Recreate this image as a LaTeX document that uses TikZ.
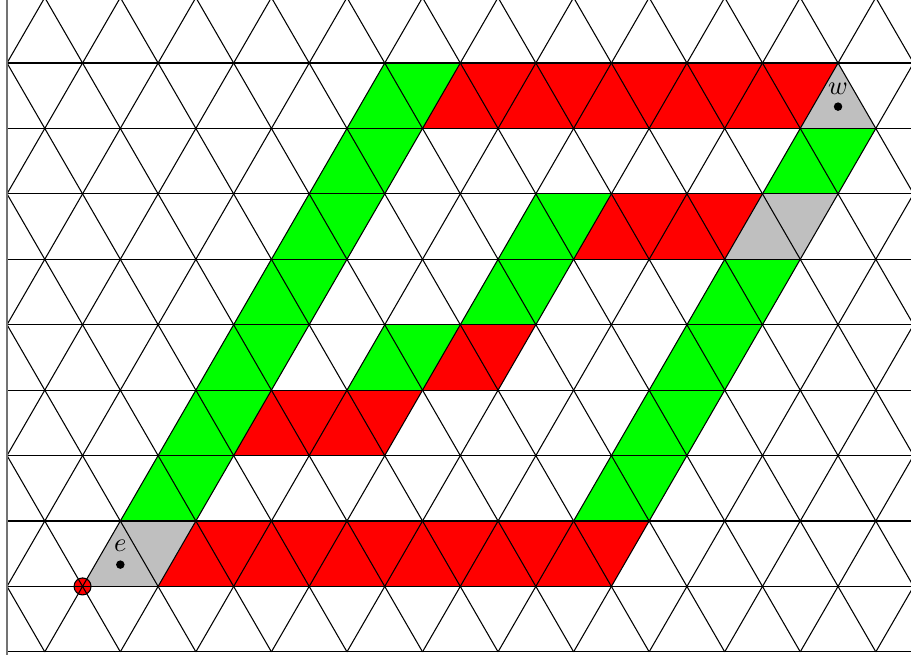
\documentclass[tikz,border=0pt]{standalone}
\begin{document}
\begin{tikzpicture}[x={(1cm,0cm)}, y={(0cm,-0.8660254cm)},
  greenf/.style={fill=green},
  redf/.style={fill=red},
  grayf/.style={fill=lightgray},
  gridline/.style={draw=black, line width=0.4pt},
  dotmark/.style={circle, fill=black, inner sep=0pt, minimum size=3.2pt},
  startmark/.style={circle, draw=black, fill=red, inner sep=0pt, minimum size=6.4pt}]
\useasboundingbox (-0.0927,-0.963) rectangle (11.966,9.094);
% green bands
\fill[greenf] (5,0) -- (6,0) -- (2.5,7) -- (1.5,7) -- cycle;
\fill[greenf] (10.5,1) -- (11.5,1) -- (11,2) -- (10,2) -- cycle;
\fill[greenf] (9.5,3) -- (10.5,3) -- (8.5,7) -- (7.5,7) -- cycle;
\fill[greenf] (7,2) -- (8,2) -- (7,4) -- (6,4) -- cycle;
\fill[greenf] (5,4) -- (6,4) -- (5.5,5) -- (4.5,5) -- cycle;
% red bands
\fill[redf] (6,0) -- (11,0) -- (10.5,1) -- (5.5,1) -- cycle;
\fill[redf] (8,2) -- (10,2) -- (9.5,3) -- (7.5,3) -- cycle;
\fill[redf] (6,4) -- (7,4) -- (6.5,5) -- (5.5,5) -- cycle;
\fill[redf] (3.5,5) -- (5.5,5) -- (5,6) -- (3,6) -- cycle;
\fill[redf] (2.5,7) -- (8.5,7) -- (8,8) -- (2,8) -- cycle;
% gray cells
\fill[grayf] (11,0) -- (11.5,1) -- (10.5,1) -- cycle;
\fill[grayf] (10,2) -- (11,2) -- (10.5,3) -- (9.5,3) -- cycle;
\fill[grayf] (1.5,7) -- (2.5,7) -- (2,8) -- (1,8) -- cycle;
% start marker
\node[startmark] (start) at (1,8) {};
% grid
\begin{scope}
  \clip (0,-1.5) rectangle (12.5,9.05);
  \foreach \k in {-1,...,9} \draw[gridline] (0,\k) -- (12.5,\k);
  \foreach \n in {-5,...,13} \draw[gridline] (\n-0.5,-1) -- (\n+4.5,9);
  \foreach \n in {-1,...,17} \draw[gridline] (\n+0.5,-1) -- (\n-4.5,9);
\end{scope}
\draw[black!55, line width=0.4pt] (0,-1.5) -- (0,9.05);
% dots and labels
\node[dotmark] (wdot) at (11,0.6667) {};
\node[dotmark] (edot) at (1.5,7.6667) {};
\node[inner sep=0pt] (wlab) at (11,0.40) {$w$};
\node[inner sep=0pt] (elab) at (1.5,7.38) {$e$};
\end{tikzpicture}
\end{document}
